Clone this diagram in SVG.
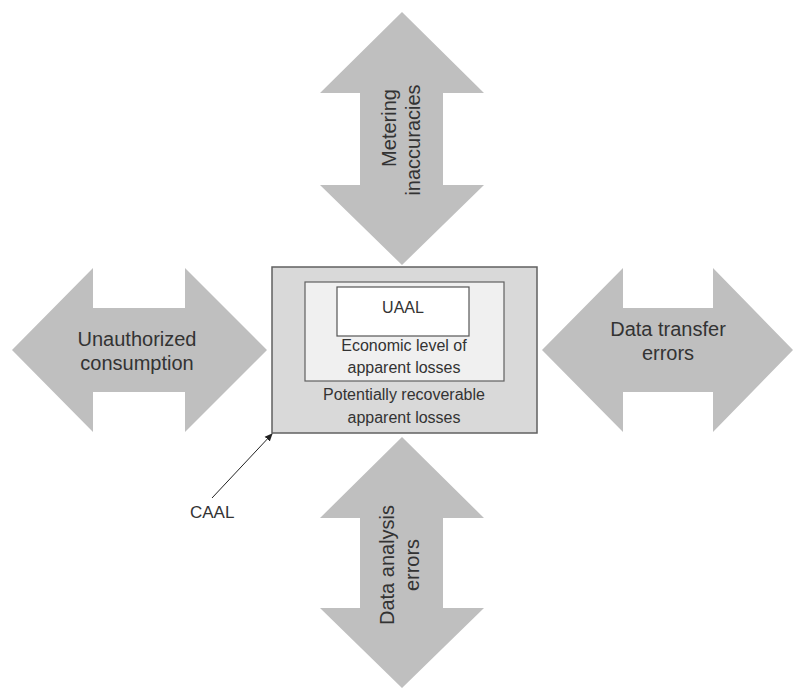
<svg xmlns="http://www.w3.org/2000/svg" width="795" height="689" viewBox="0 0 795 689">
<style>
.arr{fill:#bfbfbf;stroke:none}
.t{font-family:"Liberation Sans",Arial,sans-serif;fill:#333333;text-anchor:middle}
.big{font-size:20px}
.sm{font-size:16px}
</style>
<defs>
<marker id="ah" markerWidth="8" markerHeight="8" refX="7" refY="4" orient="auto" markerUnits="userSpaceOnUse">
<path d="M0,0.5 L8,4 L0,7.5 Z" fill="#222"/>
</marker>
</defs>
<rect width="795" height="689" fill="#ffffff"/>
<g id="top-arrow">
<polygon class="arr" points="402,12 484,93 443,93 443,185 484,185 402,265 320,185 360,185 360,93 320,93"/>
<text class="t big" transform="translate(396,128) rotate(-90)">Metering</text>
<text class="t big" transform="translate(420,140) rotate(-90)">inaccuracies</text>
</g>
<g id="bottom-arrow">
<polygon class="arr" points="402,437 484,518 443,518 443,608 484,608 402,688 320,608 360,608 360,518 320,518"/>
<text class="t big" transform="translate(394,565) rotate(-90)">Data analysis</text>
<text class="t big" transform="translate(419,565) rotate(-90)">errors</text>
</g>
<g id="left-arrow">
<polygon class="arr" points="12,350 93,268 93,308 185,308 185,268 267,350 185,432 185,392 93,392 93,432"/>
<text class="t big" x="137" y="346">Unauthorized</text>
<text class="t big" x="137" y="370">consumption</text>
</g>
<g id="right-arrow">
<polygon class="arr" points="542,350 623,268 623,308 713,308 713,268 793,350 713,432 713,392 623,392 623,432"/>
<text class="t big" x="668" y="336">Data transfer</text>
<text class="t big" x="668" y="360">errors</text>
</g>
<g id="caal-box">
<rect x="272" y="267" width="265" height="166" fill="#d9d9d9" stroke="#606060" stroke-width="1.5"/>
<text class="t sm" x="404" y="400">Potentially recoverable</text>
<text class="t sm" x="404" y="423">apparent losses</text>
</g>
<g id="economic-box">
<rect x="305" y="282" width="199" height="99" fill="#f0f0f0" stroke="#606060" stroke-width="1.2"/>
<text class="t sm" x="404" y="351">Economic level of</text>
<text class="t sm" x="404" y="373">apparent losses</text>
</g>
<g id="uaal-box">
<rect x="337" y="287" width="132" height="49" fill="#ffffff" stroke="#555555" stroke-width="1.2"/>
<text class="t sm" x="403" y="313">UAAL</text>
</g>
<g id="caal-label">
<text class="t" style="font-size:17px;text-anchor:start" x="190" y="518">CAAL</text>
</g>
<g id="connectors">
<line x1="212" y1="498" x2="272" y2="434" stroke="#222" stroke-width="1" marker-end="url(#ah)"/>
</g>
</svg>
